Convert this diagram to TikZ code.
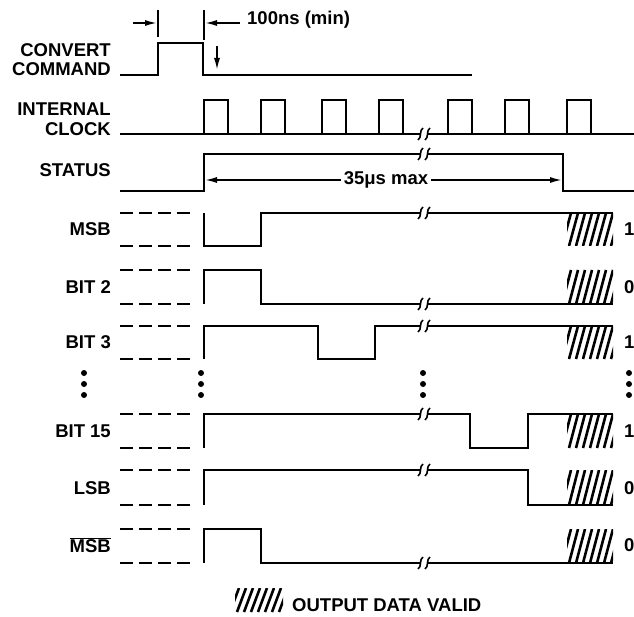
\documentclass[tikz,border=0pt]{standalone}
\usepackage{fontspec}
\setsansfont{Liberation Sans}
\usetikzlibrary{arrows.meta,positioning}
\tikzset{
  base/.style={font=\sffamily\bfseries\fontsize{18.5}{19.5}\selectfont, inner sep=0pt, text=black},
  lbl/.style={base, anchor=east, align=right},
  bitval/.style={base, anchor=west},
  sig/.style={line width=2.2pt, line join=miter},
  hold/.style={line width=2.2pt, dash pattern=on 13pt off 6pt},
  tick/.style={line width=1.8pt},
  arr/.style={-{Latex[length=12pt,width=6pt]}, line width=1.6pt},
  hatchln/.style={line width=2.6pt},
  brkln/.style={line width=1.6pt},
}
% break mark on a signal line, centred at x,y
\newcommand{\brk}[2]{%
  \draw[brkln] ({#1-6},{#2+6}) .. controls ({#1-2},{#2+4}) and ({#1-5},{#2-4}) .. ({#1-1},{#2-6});
  \draw[brkln] ({#1+1},{#2+6}) .. controls ({#1+5},{#2+4}) and ({#1+2},{#2-4}) .. ({#1+6},{#2-6});}
% hatched "data valid" box
\newcommand{\hatchbox}[4]{%
  \begin{scope}
    \clip (#1,#2) rectangle (#3,#4);
    \foreach \k in {0,...,8}{\draw[hatchln] ({#1+\k*7-5},#4) -- ({#1+\k*7+4},#2);}
  \end{scope}}
\newcommand{\bitdots}[1]{\foreach \yy in {373,384,395}{\fill (#1,\yy) circle (3pt);}}

\begin{document}
\begin{tikzpicture}[x=1pt,y=-1pt]
  \useasboundingbox (0,0) rectangle (634,617);
  % signal names
  \node[lbl] (conv) at (111,59.5) {CONVERT\\COMMAND};
  \node[lbl] (clk) at (111,119) {INTERNAL\\CLOCK};
  \node[lbl] (stat) at (111,170) {STATUS};
  \foreach \y/\t/\n in {229/MSB/msb,287/{BIT 2}/b2,342/{BIT 3}/b3,431/{BIT 15}/b15,488/LSB/lsb,545/{$\overline{\hbox{MSB}}$}/nmsb}{
    \node[lbl] (\n) at (111,\y) {\t};
  }
  % output values
  \foreach \y/\v in {229/1,287/0,342/1,431/1,488/0,545/0}{
    \node[bitval] at (624,\y) {\v};
  }
  % convert command
  \draw[sig] (120,75) -- (158,75) -- (158,43) -- (203,43) -- (203,75) -- (472,75);
  \draw[tick] (158,10) -- (158,37);
  \draw[tick] (204,10) -- (204,40);
  \coordinate (pL) at (157,23);
  \coordinate (pR) at (205,23);
  \draw[arr] (133,23) -- (pL);
  \node[base, anchor=west] (tmin) at (247,20) {100ns (min)};
  \draw[arr] (tmin.west) ++(-7,3) -- (pR);
  \coordinate (cfall) at (217,70);
  \draw[arr] (217,46) -- (cfall);
  % internal clock
  \draw[sig] (120,134) -- (420,134);
  \draw[sig] (428,134) -- (634,134);
  \foreach \t in {204,261,322,379,448,505,567}{
    \draw[sig] (\t,134) -- (\t,100) -- (\t+24,100) -- (\t+24,134);
  }
  \brk{424}{134}
  % status
  \draw[sig] (120,191) -- (204,191) -- (204,154) -- (420,154);
  \draw[sig] (428,154) -- (563,154) -- (563,191) -- (634,191);
  \brk{424}{154}
  \node[base, inner sep=3pt] (span) at (386,180) {35μs max};
  \coordinate (sL) at (205,180);
  \coordinate (sR) at (562,180);
  \draw[arr] (span.west) -- (sL);
  \draw[arr] (span.east) -- (sR);
  % data outputs: undefined before conversion
  \foreach \t/\b in {213/246,270/304,326/359,414/448,470/505,529/563}{
    \draw[hold] (120,\t) -- (195,\t);
    \draw[hold] (120,\b) -- (195,\b);
    \hatchbox{567}{\t}{613}{\b}
  }
  % MSB
  \draw[sig] (204,213) -- (204,246) -- (261,246) -- (261,213) -- (420,213);
  \draw[sig] (428,213) -- (613,213);
  \brk{424}{213}
  % BIT 2
  \draw[sig] (204,304) -- (204,270) -- (261,270) -- (261,304) -- (420,304);
  \draw[sig] (428,304) -- (613,304);
  \brk{424}{304}
  % BIT 3
  \draw[sig] (204,359) -- (204,326) -- (318,326) -- (318,359) -- (375,359) -- (375,326) -- (420,326);
  \draw[sig] (428,326) -- (613,326);
  \brk{424}{326}
  % BIT 15
  \draw[sig] (204,448) -- (204,414) -- (420,414);
  \draw[sig] (428,414) -- (470,414) -- (470,448) -- (528,448) -- (528,414) -- (613,414);
  \brk{424}{414}
  % LSB
  \draw[sig] (204,505) -- (204,470) -- (420,470);
  \draw[sig] (428,470) -- (528,470) -- (528,505) -- (613,505);
  \brk{424}{470}
  % MSB bar
  \draw[sig] (204,563) -- (204,529) -- (261,529) -- (261,563) -- (420,563);
  \draw[sig] (428,563) -- (613,563);
  \brk{424}{563}
  % omitted bits
  \bitdots{84} \bitdots{201} \bitdots{423} \bitdots{629}
  % legend
  \hatchbox{235}{588}{283}{612}
  \node[base, anchor=west] (valid) at (292,605) {OUTPUT DATA VALID};
\end{tikzpicture}
\end{document}
